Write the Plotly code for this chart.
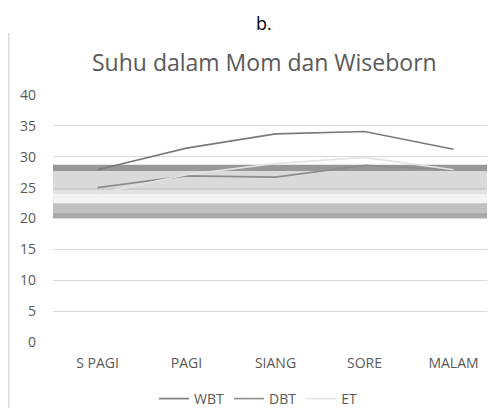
import plotly.graph_objects as go

categories = ["S PAGI", "PAGI", "SIANG", "SORE", "MALAM"]
wbt = [27.9, 31.4, 33.7, 34.1, 31.2]
dbt = [25.0, 26.9, 26.7, 28.6, 27.9]
et = [24.0, 27.1, 28.9, 29.9, 27.9]

# horizontal comfort bands: (low, high, colour)
band_low = [27.7, 25.05, 24.6, 23.9, 22.45, 20.95, 19.9]
band_high = [28.7, 27.7, 25.05, 24.6, 23.9, 22.45, 20.95]
band_color = ["#989898", "#dadada", "#cdcdcd", "#e2e2e2", "#f3f3f3", "#c0c0c0", "#a9a9a9"]

yticks = [0, 5, 10, 15, 20, 25, 30, 35, 40]

FONT = "Open Sans"
# page body has an 8px margin; figure coordinates are page coordinates minus 8
OFF = 8
W, H = 495 - OFF, 408 - OFF
L, T = 53 - OFF, 95 - OFF
PB = 342 - OFF           # plot bottom in figure coords
PH = PB - T              # plot height
PW = W - L               # plot width

def px(x):  # page x -> paper x
    return (x - OFF - L) / PW

def py(y):  # page y -> paper y
    return (PB - (y - OFF)) / PH

fig = go.Figure()
fig.add_trace(go.Scatter(x=categories, y=wbt, name="WBT", mode="lines",
                         line=dict(color="#7a7a7a", width=1.6)))
fig.add_trace(go.Scatter(x=categories, y=dbt, name="DBT", mode="lines",
                         line=dict(color="#8c8c8c", width=1.6)))
fig.add_trace(go.Scatter(x=categories, y=et, name="ET", mode="lines",
                         line=dict(color="#e3e3e3", width=1.6)))

shapes = []
for lo, hi, c in zip(band_low, band_high, band_color):
    shapes.append(dict(type="rect", xref="paper", yref="y", x0=0, x1=1, y0=lo, y1=hi,
                       fillcolor=c, line=dict(width=0), layer="between"))
# left chart border (as close to the left edge as the figure allows)
shapes.append(dict(type="line", xref="paper", yref="paper", x0=px(8.8), x1=px(8.8),
                   y0=py(410), y1=py(33), line=dict(color="#dcdcdc", width=1.5)))

fig.update_layout(
    width=W, height=H,
    margin=dict(l=L, r=0, t=T, b=H - PB, autoexpand=False),
    paper_bgcolor="white", plot_bgcolor="white",
    font=dict(family=FONT, color="#595959", size=14),
    showlegend=True,
    legend=dict(orientation="h", x=px(258), xanchor="center", y=py(399), yanchor="middle",
                font=dict(size=14, color="#595959"), itemwidth=30),
    xaxis=dict(type="category", range=[-0.5, 4.466], showgrid=False, showline=False,
               ticks="", tickfont=dict(size=14, color="#595959"), ticklabelstandoff=11),
    yaxis=dict(range=[0, 40], tickvals=yticks, showgrid=True, gridcolor="#d9d9d9",
               gridwidth=1, zeroline=False, showline=False, ticks="",
               tickfont=dict(size=14, color="#595959"), ticklabelstandoff=16),
    shapes=shapes,
    annotations=[
        dict(text="b.", xref="paper", yref="paper", x=px(264), y=py(23),
             showarrow=False, font=dict(size=18, color="#000000", family=FONT),
             xanchor="center", yanchor="middle"),
        dict(text="Suhu dalam Mom dan Wiseborn", xref="paper", yref="paper",
             x=px(264), y=py(62), showarrow=False,
             font=dict(size=23, color="#595959", family=FONT),
             xanchor="center", yanchor="middle"),
    ],
)

fig.write_html("out.html")
